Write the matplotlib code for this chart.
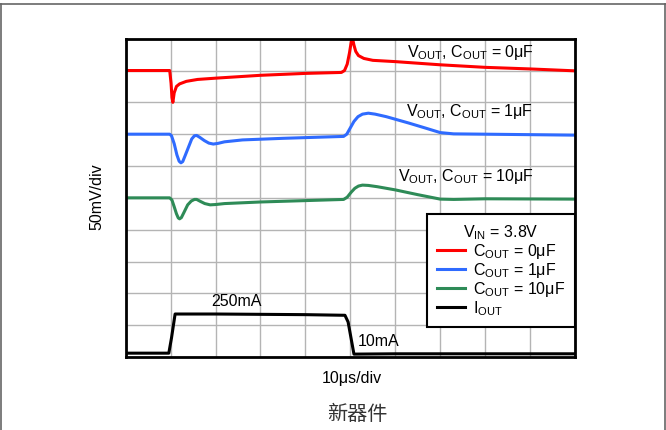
import matplotlib
matplotlib.use("Agg")
import matplotlib.pyplot as plt
from matplotlib.lines import Line2D

plt.rcParams['font.family'] = ['Liberation Sans', 'Noto Sans CJK SC', 'DejaVu Sans']
plt.rcParams['mathtext.fontset'] = 'custom'
plt.rcParams['mathtext.rm'] = 'Liberation Sans'
plt.rcParams['mathtext.it'] = 'Liberation Sans'
plt.rcParams['mathtext.default'] = 'regular'

x_red = [0, 0.98, 1.01, 1.03, 1.05, 1.08, 1.13, 1.2, 1.35, 1.6, 2.0, 3.0, 4.0, 4.8, 4.87,
         4.93, 4.98, 5.02, 5.05, 5.08, 5.12, 5.18, 5.3, 5.5, 6.0, 7.0, 8.0, 9.0, 10]
y_red = [9.0, 9.0, 8.6, 8.15, 8.0, 8.3, 8.5, 8.58, 8.66, 8.72, 8.76, 8.85, 8.91, 8.94, 9.0,
         9.2, 9.55, 9.9, 10.0, 9.8, 9.6, 9.47, 9.38, 9.32, 9.28, 9.18, 9.1, 9.05, 8.99]

x_blue = [0, 0.98, 1.02, 1.08, 1.14, 1.19, 1.23, 1.27, 1.33, 1.4, 1.47, 1.53, 1.58, 1.65,
          1.75, 1.85, 1.95, 2.05, 2.2, 2.6, 3.5, 4.85, 4.92, 5.0, 5.08, 5.17, 5.27, 5.4,
          5.55, 5.8, 6.3, 6.7, 7.0, 7.3, 8.0, 10]
y_blue = [7.0, 7.0, 6.95, 6.7, 6.35, 6.15, 6.1, 6.14, 6.35, 6.6, 6.85, 6.95, 6.96, 6.9,
          6.8, 6.72, 6.69, 6.71, 6.76, 6.82, 6.87, 6.93, 7.0, 7.2, 7.4, 7.55, 7.63, 7.66,
          7.63, 7.55, 7.35, 7.18, 7.05, 7.01, 7.0, 6.97]

x_green = [0, 0.98, 1.03, 1.08, 1.13, 1.17, 1.2, 1.24, 1.3, 1.38, 1.46, 1.53, 1.58, 1.66,
           1.76, 1.88, 2.0, 2.2, 3.0, 4.85, 4.93, 5.02, 5.1, 5.18, 5.27, 5.4, 5.6, 6.0,
           6.5, 7.0, 7.3, 8.0, 10]
y_green = [5.0, 5.0, 4.93, 4.72, 4.5, 4.37, 4.34, 4.38, 4.55, 4.78, 4.9, 4.95, 4.95, 4.89,
           4.82, 4.78, 4.79, 4.82, 4.87, 4.95, 5.02, 5.18, 5.3, 5.37, 5.4, 5.39, 5.35, 5.25,
           5.1, 4.96, 4.95, 4.97, 4.96]

x_black = [0, 0.96, 1.02, 1.1, 2.0, 4.0, 4.88, 4.95, 5.08, 6.0, 10]
y_black = [0.12, 0.12, 0.6, 1.35, 1.35, 1.33, 1.31, 1.1, 0.09, 0.1, 0.1]

fig = plt.figure(figsize=(6.66, 4.30), dpi=100)
ax = fig.add_axes([0.1887, 0.1698, 0.6747, 0.7402])

ax.plot(x_red, y_red, color='#ff0000', lw=2.2, label='C$_{OUT}$ = 0μF')
ax.plot(x_blue, y_blue, color='#2f6bff', lw=2.2, label='C$_{OUT}$ = 1μF')
ax.plot(x_green, y_green, color='#2e8b57', lw=2.2, label='C$_{OUT}$ = 10μF')
ax.plot(x_black, y_black, color='black', lw=2.2, label='I$_{OUT}$')

ax.set_xlim(0, 10)
ax.set_ylim(0, 10)
ax.set_xticks(range(11))
ax.set_yticks(range(11))
ax.tick_params(length=0, labelbottom=False, labelleft=False)
ax.grid(True, color='#b4b4b4', lw=1)
for s in ax.spines.values():
    s.set_linewidth(2)

ax.text(6.26, 9.57, 'V$_{OUT}$, C$_{OUT}$ = 0μF', fontsize=11.5, va='center')
ax.text(6.24, 7.71, 'V$_{OUT}$, C$_{OUT}$ = 1μF', fontsize=11.5, va='center')
ax.text(6.06, 5.67, 'V$_{OUT}$, C$_{OUT}$ = 10μF', fontsize=11.5, va='center')
ax.text(2.47, 1.74, '250mA', fontsize=11.5, ha='center', va='center')
ax.text(5.17, 0.48, '10mA', fontsize=11.5, va='center')

leg = ax.legend(loc='upper right', bbox_to_anchor=(1.0, 0.45), borderaxespad=0,
                title='V$_{IN}$ = 3.8V', fontsize=11.5, title_fontsize=11.5,
                fancybox=False, framealpha=1, edgecolor='black', borderpad=0.6,
                handlelength=1.8, labelspacing=0.0, handletextpad=0.5)
leg.get_frame().set_linewidth(1.5)

fig.text(97 / 666, 1 - 197 / 430, '50mV/div', rotation=90, fontsize=11.5, ha='center', va='center')
fig.text(352 / 666, 1 - 378 / 430, '10μs/div', fontsize=11.5, ha='center', va='center')
fig.text(357 / 666, 1 - 414 / 430, '新器件', fontsize=14.5, color='#333333', ha='center', va='center',
         family=['Noto Sans CJK SC'])

# outer frame
fig.add_artist(Line2D([0, 1], [1 - 3.5 / 430] * 2, color='#666666', lw=1.2))
fig.add_artist(Line2D([0.001, 0.001], [0, 1 - 3.5 / 430], color='#666666', lw=1.2))
fig.add_artist(Line2D([0.999, 0.999], [0, 1 - 3.5 / 430], color='#666666', lw=1.2))

fig.savefig('out.png', dpi=100)
